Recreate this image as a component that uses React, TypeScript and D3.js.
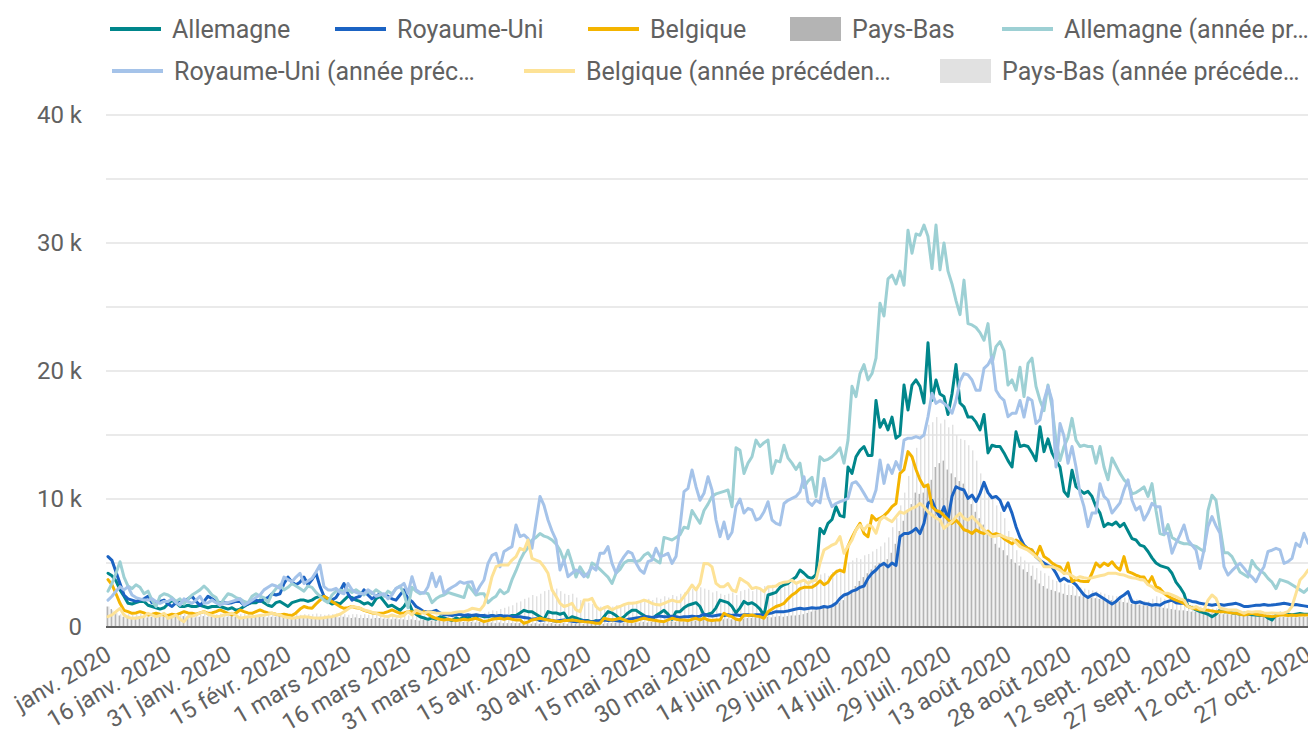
import React from 'react';
import * as d3 from 'd3';

// ---------- DATA (values in thousands, one per day from 1 Jan 2020 to 27 Oct 2020) ----------
const START_DATE = new Date(2020, 0, 1);

const tickLabels = [
  'janv. 2020', '16 janv. 2020', '31 janv. 2020', '15 févr. 2020', '1 mars 2020',
  '16 mars 2020', '31 mars 2020', '15 avr. 2020', '30 avr. 2020', '15 mai 2020',
  '30 mai 2020', '14 juin 2020', '29 juin 2020', '14 juil. 2020', '29 juil. 2020',
  '13 août 2020', '28 août 2020', '12 sept. 2020', '27 sept. 2020', '12 oct. 2020', '27 oct. 2020'
];
const tickDayIndex = [0, 15, 30, 45, 60, 75, 90, 105, 120, 135, 150, 165, 180, 195, 210, 225, 240, 255, 270, 285, 300];

const yTicks = [0, 10, 20, 30, 40];
const yGrid = [5, 10, 15, 20, 25, 30, 35, 40];

const allemagne = [
  4.2, 4.0, 3.6, 2.9, 2.4, 1.85, 1.8, 1.9, 2.0, 2.0,
  1.7, 1.6, 1.5, 1.4, 1.5, 1.8, 2.1, 1.9, 1.6, 1.6,
  1.7, 1.6, 1.6, 1.7, 1.6, 1.5, 1.6, 1.6, 1.6, 1.5,
  1.4, 1.5, 1.3, 1.4, 1.6, 1.8, 1.9, 1.9, 2.1, 1.9,
  1.7, 1.6, 1.9, 2.0, 1.8, 1.6, 1.9, 2.0, 2.1, 2.1,
  2.0, 2.1, 2.3, 2.4, 2.3, 2.0, 1.8, 1.9, 1.8, 2.1,
  2.4, 2.3, 2.1, 2.0, 1.8, 1.9, 1.7, 2.2, 2.4, 2.0,
  1.6, 1.7, 1.5, 1.3, 1.6, 2.1, 1.3, 1.0, 0.8, 0.7,
  0.6, 0.7, 0.6, 0.8, 0.7, 0.6, 0.5, 0.7, 0.6, 0.8,
  0.7, 0.9, 0.8, 0.9, 0.8, 0.8, 0.9, 0.8, 0.9, 0.8,
  0.8, 0.9, 0.9, 1.1, 1.3, 1.2, 1.2, 1.0, 0.8, 0.6,
  1.2, 1.1, 1.1, 1.0, 1.1, 0.6, 0.8, 0.7, 0.6, 0.5,
  0.5, 0.4, 0.5, 0.4, 0.8, 1.2, 1.1, 0.9, 0.6, 0.8,
  1.1, 1.3, 1.3, 1.1, 0.9, 0.7, 0.6, 0.9, 1.1, 1.3,
  1.0, 0.6, 1.2, 1.2, 1.5, 1.7, 1.8, 1.9, 1.6, 0.9,
  1.0, 1.1, 1.5, 2.1, 2.0, 1.9, 1.6, 1.1, 1.5, 2.0,
  1.8, 1.9, 1.7, 1.4, 0.9, 2.5, 2.6, 2.7, 3.1, 3.3,
  3.4, 3.7, 3.9, 4.45, 4.2, 3.9, 3.8, 4.1, 7.7, 7.3,
  8.1, 8.4, 9.4, 8.7, 8.6, 12.5, 12.0, 13.3, 13.8, 14.1,
  13.4, 13.4, 17.7, 15.6, 16.2, 15.4, 16.4, 14.75, 15.0, 18.9,
  16.95, 18.9, 19.3, 18.8, 17.5, 22.2, 17.7, 19.3, 18.2, 18.0,
  16.6, 18.2, 20.5, 17.5, 17.2, 16.4, 16.4, 16.0, 15.4, 16.6,
  13.6, 14.2, 14.1, 14.1, 13.6, 13.0, 12.5, 15.25, 14.1, 14.2,
  14.1, 13.6, 13.0, 15.65, 13.7, 14.7, 13.6, 13.0, 12.5, 10.6,
  10.2, 12.25, 10.96, 10.7, 10.44, 10.6, 10.2, 9.4, 8.9, 7.84,
  8.1, 7.97, 8.2, 7.84, 8.1, 7.5, 6.9, 6.8, 6.4, 6.3,
  5.9, 5.4, 5.0, 4.8, 4.7, 4.6, 4.2, 3.5, 3.1, 2.6,
  1.6, 1.5, 1.33, 1.2, 1.1, 1.0, 0.8, 1.0, 1.33, 1.2,
  1.2, 1.1, 1.07, 1.0, 1.07, 1.0, 0.95, 0.94, 0.9, 0.94,
  0.7, 0.55, 0.94, 1.07, 1.0, 1.0, 0.95, 1.0, 1.05, 1.0,
  1.0
];

const royaumeUni = [
  5.5, 5.2, 4.3, 3.4, 2.5, 2.2, 2.1, 2.0, 2.1, 2.2,
  2.4, 1.9, 1.9, 2.0, 2.1, 1.8, 1.6, 1.9, 2.1, 2.0,
  2.2, 2.4, 2.0, 1.7, 2.0, 2.4, 2.2, 2.0, 1.9, 1.9,
  1.85, 1.9, 2.0, 2.0, 1.7, 1.8, 2.0, 2.1, 2.0, 2.2,
  2.3, 2.6, 2.5, 2.6, 3.4, 3.9, 3.5, 3.3, 3.5, 3.9,
  3.3, 3.7, 4.2, 3.15, 2.4, 2.2, 2.1, 2.3, 2.8, 3.4,
  2.6, 2.1, 2.3, 2.4, 2.9, 2.5, 2.2, 2.4, 2.6, 2.5,
  2.4, 2.2, 2.1, 2.5, 2.9, 2.2, 2.0, 1.6, 1.4, 1.2,
  1.2, 1.2, 1.3, 1.1, 0.95, 0.95, 0.9, 0.95, 1.0, 0.9,
  0.95, 0.9, 0.95, 0.9, 0.9, 0.85, 0.9, 0.85, 0.9, 0.85,
  0.85, 0.8, 0.8, 0.8, 0.75, 0.7, 0.6, 0.65, 0.5, 0.55,
  0.6, 0.5, 0.45, 0.5, 0.55, 0.5, 0.45, 0.4, 0.45, 0.5,
  0.45, 0.4, 0.45, 0.5, 0.55, 0.5, 0.55, 0.5, 0.45, 0.5,
  0.6, 0.65, 0.7, 0.75, 0.8, 0.8, 0.75, 0.8, 0.85, 0.8,
  0.8, 0.85, 0.8, 0.75, 0.8, 0.8, 0.85, 0.8, 0.85, 1.0,
  0.9, 0.85, 0.9, 0.95, 0.9, 0.95, 0.9, 0.95, 0.9, 0.95,
  0.95, 0.9, 0.95, 0.95, 0.9, 1.05, 1.1, 1.2, 1.2, 1.2,
  1.25, 1.33, 1.4, 1.46, 1.4, 1.45, 1.5, 1.46, 1.5, 1.6,
  1.55, 1.65, 1.85, 2.24, 2.5, 2.6, 2.8, 2.9, 3.1, 3.2,
  3.8, 4.2, 4.45, 4.8, 4.97, 4.7, 5.0, 4.8, 7.05, 7.3,
  7.3, 7.45, 7.7, 7.3, 8.1, 9.65, 9.9, 9.1, 8.6, 9.4,
  8.4, 10.2, 10.96, 10.8, 10.7, 10.05, 10.3, 9.8, 10.44, 11.3,
  10.5, 10.1, 10.2, 9.9, 9.1, 9.7, 8.9, 7.84, 7.0, 6.4,
  6.1, 6.0, 5.5, 5.2, 5.0, 4.8, 4.7, 4.2, 3.6, 3.8,
  3.6, 3.55, 3.3, 2.9, 2.5, 2.3, 2.5, 2.6, 2.4, 2.2,
  2.0, 1.8, 2.0, 2.3, 2.5, 2.76, 1.97, 1.9, 1.97, 1.84,
  1.8, 1.7, 1.75, 1.7, 1.9, 2.0, 2.1, 1.9, 1.85, 1.85,
  2.1, 2.0, 1.95, 1.85, 1.8, 1.75, 1.7, 1.75, 1.75, 1.7,
  1.75, 1.8, 1.85, 1.75, 1.6, 1.6, 1.65, 1.7, 1.7, 1.75,
  1.7, 1.72, 1.75, 1.8, 1.85, 1.8, 1.72, 1.75, 1.7, 1.65,
  1.6
];

const belgique = [
  3.7, 3.3, 2.6, 1.85, 1.3, 1.2, 1.07, 1.1, 1.2, 1.1,
  0.94, 1.0, 1.07, 1.0, 0.94, 0.9, 1.0, 0.94, 1.07, 1.2,
  1.1, 1.07, 1.0, 1.1, 1.2, 1.07, 1.1, 1.2, 1.33, 1.2,
  1.07, 0.94, 1.1, 1.33, 1.2, 1.1, 1.07, 1.2, 1.33, 1.2,
  1.1, 1.07, 1.0, 0.94, 1.0, 0.94, 0.9, 1.1, 1.4, 1.6,
  1.5, 1.46, 1.8, 2.1, 2.4, 2.2, 1.98, 1.8, 1.6, 1.46,
  1.5, 1.6, 1.5, 1.46, 1.3, 1.2, 1.1, 1.07, 1.07, 1.1,
  1.2, 1.33, 1.2, 1.07, 1.1, 1.2, 1.2, 1.1, 1.07, 1.2,
  1.0, 0.8, 0.68, 0.6, 0.55, 0.6, 0.55, 0.5, 0.55, 0.6,
  0.55, 0.6, 0.68, 0.55, 0.42, 0.5, 0.6, 0.65, 0.68, 0.6,
  0.68, 0.6, 0.55, 0.55, 0.29, 0.4, 0.55, 0.6, 0.68, 0.6,
  0.55, 0.5, 0.45, 0.42, 0.5, 0.5, 0.55, 0.5, 0.45, 0.42,
  0.4, 0.35, 0.3, 0.29, 0.68, 0.6, 0.55, 0.6, 0.68, 0.55,
  0.45, 0.42, 0.5, 0.6, 0.68, 0.6, 0.55, 0.5, 0.45, 0.42,
  0.55, 0.68, 0.6, 0.55, 0.55, 0.5, 0.6, 0.68, 0.55, 0.7,
  0.55, 0.5, 0.55, 0.55, 1.07, 0.9, 0.81, 0.6, 0.55, 0.94,
  0.9, 0.94, 0.85, 0.81, 0.68, 1.2, 1.4, 1.6, 1.7, 1.85,
  2.2, 2.5, 2.7, 3.0, 3.1, 3.1, 3.1, 3.3, 3.6, 3.3,
  3.5, 4.0, 4.3, 4.45, 4.3, 6.3, 7.0, 7.6, 8.1, 7.3,
  7.05, 8.7, 8.35, 8.5, 8.7, 9.0, 9.4, 9.65, 12.0, 12.3,
  13.7, 13.3, 12.3, 11.5, 10.96, 11.1, 9.4, 9.1, 9.0, 8.7,
  8.4, 8.1, 8.35, 8.0, 7.6, 7.5, 7.3, 7.6, 7.4, 7.3,
  7.5, 7.2, 7.3, 7.19, 6.9, 6.7, 6.5, 6.8, 6.6, 6.3,
  6.15, 6.0, 5.5, 6.3, 5.5, 5.3, 5.0, 4.8, 4.7, 4.2,
  5.0, 3.55, 3.7, 3.6, 3.55, 3.55, 4.2, 5.0, 4.7, 5.0,
  4.8, 5.1, 4.7, 4.45, 5.5, 4.33, 4.2, 4.06, 3.93, 3.9,
  3.4, 3.93, 3.15, 3.0, 2.63, 2.4, 2.24, 2.1, 1.98, 1.85,
  1.6, 1.5, 1.4, 1.33, 1.33, 1.3, 1.25, 1.2, 1.2, 1.2,
  1.15, 1.1, 1.07, 1.0, 0.94, 1.0, 1.07, 1.0, 0.94, 0.9,
  0.85, 0.81, 0.85, 0.94, 0.94, 0.9, 0.94, 0.9, 0.94, 0.94,
  0.94
];

const paysBas = [
  1.6, 1.4, 1.0, 0.9, 0.8, 0.8, 0.75, 0.8, 0.85, 0.8,
  0.75, 0.8, 0.8, 0.85, 0.8, 0.8, 0.75, 0.8, 0.8, 0.85,
  0.8, 0.8, 0.75, 0.8, 0.85, 0.8, 0.8, 0.85, 0.8, 0.75,
  0.8, 0.85, 0.8, 0.8, 0.75, 0.8, 0.8, 0.85, 0.8, 0.8,
  0.75, 0.8, 0.8, 0.85, 0.8, 0.8, 0.75, 0.8, 0.8, 0.85,
  0.8, 0.8, 0.75, 0.8, 0.8, 0.85, 0.8, 0.8, 0.75, 0.8,
  0.75, 0.7, 0.75, 0.7, 0.7, 0.7, 0.65, 0.7, 0.7, 0.65,
  0.65, 0.6, 0.65, 0.6, 0.6, 0.55, 0.6, 0.55, 0.5, 0.55,
  0.5, 0.5, 0.45, 0.5, 0.45, 0.45, 0.4, 0.45, 0.4, 0.4,
  0.4, 0.4, 0.35, 0.4, 0.35, 0.35, 0.35, 0.3, 0.35, 0.3,
  0.3, 0.3, 0.3, 0.3, 0.25, 0.3, 0.25, 0.3, 0.25, 0.3,
  0.25, 0.3, 0.25, 0.25, 0.3, 0.25, 0.3, 0.25, 0.3, 0.25,
  0.3, 0.25, 0.3, 0.3, 0.25, 0.3, 0.3, 0.35, 0.3, 0.3,
  0.35, 0.3, 0.35, 0.35, 0.4, 0.35, 0.4, 0.4, 0.35, 0.4,
  0.4, 0.45, 0.4, 0.45, 0.45, 0.5, 0.45, 0.5, 0.5, 0.55,
  0.55, 0.6, 0.55, 0.6, 0.6, 0.65, 0.6, 0.65, 0.7, 0.65,
  0.7, 0.7, 0.75, 0.7, 0.75, 0.8, 0.75, 0.8, 0.85, 0.8,
  0.85, 0.9, 0.9, 0.95, 1.0, 1.1, 1.2, 1.3, 1.4, 1.5,
  1.6, 1.7, 1.8, 1.9, 2.1, 2.6, 2.9, 3.2, 3.6, 3.9,
  4.2, 4.5, 4.8, 5.0, 5.1, 5.3, 5.8, 6.5, 7.5, 8.3,
  9.0, 9.6, 10.5, 10.4, 10.5, 11.0, 11.5, 12.5, 12.8, 13.0,
  12.3, 12.0, 11.7, 11.4, 11.2, 10.0, 9.6, 9.0, 8.5, 8.0,
  7.5, 7.0, 6.5, 6.2, 6.0, 5.6, 5.3, 5.0, 4.8, 4.5,
  4.3, 4.0, 3.7, 3.4, 3.2, 3.0, 2.9, 2.8, 2.7, 2.6,
  2.5, 2.5, 2.45, 2.4, 2.4, 2.35, 2.3, 2.25, 2.2, 2.2,
  2.15, 2.1, 2.0, 2.0, 1.95, 1.9, 1.8, 1.8, 1.75, 1.7,
  1.65, 1.6, 1.6, 1.55, 1.5, 1.45, 1.4, 1.35, 1.3, 1.3,
  1.25, 1.2, 1.2, 1.15, 1.1, 1.1, 1.05, 1.05, 1.0, 1.0,
  1.0, 0.95, 0.95, 0.9, 0.9, 0.9, 0.85, 0.85, 0.85, 0.8,
  0.8, 0.8, 0.8, 0.75, 0.8, 0.75, 0.8, 0.75, 0.8, 0.8,
  0.8
];

const allemagnePrev = [
  2.8, 3.4, 4.2, 5.1, 3.9, 3.2, 3.0, 3.3, 3.1, 2.6,
  2.8, 2.1, 1.6, 2.4, 2.6, 2.5, 2.3, 2.0, 2.2, 1.8,
  2.2, 2.5, 2.7, 2.9, 3.2, 2.9, 2.5, 2.3, 1.7, 2.2,
  2.6, 2.5, 2.3, 2.2, 2.0, 1.9, 2.4, 2.6, 2.4, 2.3,
  1.9, 2.6, 3.0, 3.3, 2.9, 3.1, 3.4, 3.2, 3.0, 2.8,
  3.2, 3.1, 2.7, 2.4, 2.1, 1.9, 2.5, 2.8, 2.9, 2.8,
  2.9, 2.7, 2.9, 2.7, 2.5, 2.8, 2.6, 2.9, 2.7, 2.4,
  2.8, 2.6, 3.0, 3.2, 2.6, 1.5, 3.1, 2.8, 2.6, 2.7,
  2.6, 1.9, 2.2, 2.4, 2.5, 2.7, 2.6, 2.5, 2.4, 2.3,
  3.3, 2.9, 2.5, 2.6, 2.6, 1.9, 2.2, 2.4, 2.9, 2.6,
  2.8, 3.7, 4.4, 5.2, 5.8, 6.2, 6.8, 7.0, 7.3, 7.1,
  7.0, 6.8, 6.5, 6.0, 5.2, 6.0, 5.0, 3.9, 4.7, 4.2,
  3.9, 5.0, 4.8, 4.5, 4.2, 3.9, 3.4, 4.2, 4.5, 5.0,
  5.2, 5.2, 5.1, 5.2, 5.6, 5.8, 5.4, 5.2, 5.0, 7.0,
  6.9, 6.8, 7.0, 7.2, 7.8, 7.7, 9.1, 8.6, 8.1, 9.1,
  9.6, 10.2, 10.4, 10.5, 10.6, 10.7, 9.4, 14.0, 13.8, 12.0,
  12.8, 13.3, 14.6, 14.1, 14.4, 14.6, 12.0, 13.0, 12.9, 14.2,
  13.2, 12.8, 12.3, 12.8, 10.9, 11.4, 11.7, 10.2, 13.3, 13.0,
  13.1, 13.3, 13.6, 14.0, 12.8, 14.6, 18.8, 18.0, 19.8, 20.5,
  19.3, 19.8, 21.0, 25.3, 24.3, 27.2, 27.5, 26.8, 27.8, 26.7,
  31.0, 29.2, 30.7, 30.6, 31.4, 30.5, 28.0, 31.4, 27.9, 30.0,
  27.8, 26.8, 25.5, 24.4, 27.1, 23.7, 23.6, 23.4, 23.0, 22.4,
  23.7, 20.6, 21.9, 22.3, 21.6, 18.9, 19.3, 18.5, 20.3, 18.0,
  20.6, 21.0, 18.8, 17.7, 16.9, 18.9, 17.2, 14.6, 13.0, 14.1,
  14.8, 16.3, 14.6, 14.1, 14.2, 14.1, 14.1, 12.8, 14.1, 12.5,
  11.5, 13.2, 12.6, 12.0, 11.5, 11.2, 10.4, 10.5, 10.7, 10.95,
  10.2, 11.2, 9.1, 7.3, 7.2, 8.0, 7.0, 6.8, 6.6, 6.5,
  6.5, 6.4, 6.3, 6.1, 5.9, 9.1, 10.3, 9.9, 7.8, 5.8,
  5.8, 5.5, 4.9, 4.3, 4.1, 3.9, 5.2, 4.7, 4.4, 4.2,
  3.8, 3.5, 3.0, 3.7, 3.6, 3.5, 3.3, 3.1, 2.9, 2.7,
  3.0
];

const royaumeUniPrev = [
  2.1, 2.4, 2.8, 3.15, 2.9, 3.15, 2.5, 2.3, 2.2, 2.1,
  2.1, 2.2, 2.0, 1.85, 2.0, 2.0, 2.2, 1.9, 1.7, 2.2,
  2.0, 1.85, 2.1, 2.4, 1.85, 1.9, 2.1, 1.9, 1.7, 1.85,
  1.9, 2.0, 2.1, 2.2, 1.7, 1.9, 2.1, 2.3, 2.5, 2.9,
  3.1, 3.3, 3.2, 3.02, 3.9, 3.7, 3.54, 3.9, 4.2, 3.4,
  3.6, 3.8, 4.3, 4.84, 3.15, 2.9, 2.9, 3.02, 2.7, 2.6,
  3.4, 2.9, 2.7, 2.6, 2.6, 2.9, 2.7, 2.4, 2.5, 2.6,
  2.2, 2.5, 3.02, 3.15, 3.41, 2.63, 3.93, 2.9, 2.7, 2.63,
  3.15, 4.2, 3.15, 3.93, 2.63, 2.9, 3.1, 3.28, 3.54, 3.41,
  3.5, 3.54, 2.63, 3.2, 3.67, 4.97, 5.6, 5.76, 4.7, 5.9,
  6.1, 6.28, 7.97, 7.06, 7.19, 6.9, 6.15, 8.2, 10.2, 9.5,
  8.36, 7.5, 6.8, 4.45, 5.23, 3.93, 4.2, 4.45, 4.3, 3.93,
  4.2, 4.7, 4.45, 5.76, 5.76, 6.28, 4.97, 4.2, 5.0, 5.5,
  5.9, 5.76, 5.0, 4.45, 4.2, 5.1, 5.23, 6.15, 5.5, 5.6,
  5.76, 4.97, 5.5, 7.84, 10.57, 10.83, 12.27, 10.96, 9.9, 10.44,
  11.74, 10.7, 8.36, 7.06, 8.2, 6.9, 7.4, 9.4, 10.0, 8.9,
  9.27, 9.14, 8.36, 8.49, 9.0, 9.79, 8.36, 8.1, 7.97, 9.65,
  9.9, 10.05, 10.2, 10.57, 11.74, 9.79, 9.5, 9.9, 9.7, 11.6,
  10.2, 9.4, 9.65, 9.8, 9.9, 10.05, 11.22, 11.35, 10.96, 10.44,
  9.9, 9.79, 10.7, 13.05, 11.22, 12.66, 12.0, 12.92, 12.27, 14.6,
  14.75, 14.75, 14.88, 14.75, 15.0, 16.43, 18.26, 17.47, 17.7, 17.47,
  17.2, 16.7, 17.7, 19.2, 19.8, 19.7, 19.3, 18.5, 18.5, 20.2,
  20.5, 21.1, 18.5, 17.99, 17.7, 16.43, 16.69, 16.69, 17.7, 16.4,
  17.9, 17.7, 15.9, 16.2, 17.7, 18.8, 17.7, 12.5, 15.9, 14.9,
  12.8, 14.1, 12.5, 10.44, 9.4, 7.84, 8.9, 8.9, 11.2, 10.2,
  9.9, 8.9, 9.3, 9.7, 10.7, 11.5, 9.9, 9.14, 9.4, 8.36,
  8.9, 9.66, 9.4, 9.4, 7.32, 7.32, 5.76, 6.54, 7.2, 7.97,
  6.8, 6.4, 6.02, 4.58, 6.02, 7.84, 8.62, 7.9, 7.32, 4.71,
  4.06, 4.4, 4.71, 4.97, 4.6, 4.19, 3.9, 3.54, 4.2, 4.71,
  5.9, 6.0, 6.15, 6.02, 4.97, 5.1, 5.36, 6.54, 6.28, 7.32,
  6.54
];

const belgiquePrev = [
  0.81, 0.94, 1.2, 1.46, 0.94, 0.75, 0.68, 0.68, 0.75, 0.81,
  1.07, 0.94, 0.81, 0.9, 1.07, 0.68, 0.8, 0.94, 0.6, 0.42,
  0.81, 0.85, 0.94, 1.1, 1.2, 1.0, 0.9, 0.81, 0.85, 0.94,
  1.0, 1.07, 0.9, 0.68, 0.75, 0.8, 0.81, 0.85, 0.9, 0.94,
  1.0, 1.07, 1.0, 0.94, 0.8, 0.75, 0.68, 0.72, 0.78, 0.81,
  0.78, 0.72, 0.7, 0.68, 0.72, 0.78, 0.81, 0.9, 1.0, 1.2,
  1.4, 1.6, 1.55, 1.46, 1.33, 1.25, 1.15, 1.07, 0.94, 0.85,
  0.81, 0.94, 0.85, 0.81, 0.9, 1.2, 0.94, 1.33, 1.2, 1.07,
  1.2, 1.15, 1.1, 1.07, 1.07, 1.07, 1.1, 1.15, 1.2, 1.2,
  1.3, 1.46, 1.4, 1.33, 1.72, 2.63, 3.93, 4.71, 4.84, 4.84,
  4.84, 5.23, 5.5, 6.15, 6.0, 6.8, 5.36, 5.23, 5.1, 4.7,
  4.2, 2.9, 2.4, 1.85, 1.6, 1.7, 1.85, 1.33, 1.2, 2.1,
  2.1, 2.24, 1.6, 1.33, 1.5, 1.6, 1.33, 1.5, 1.6, 1.75,
  1.85, 1.85, 1.9, 1.98, 2.1, 2.0, 1.85, 1.75, 1.72, 1.85,
  1.98, 2.1, 2.0, 1.98, 2.4, 2.8, 3.28, 2.9, 3.41, 4.97,
  4.95, 4.7, 3.41, 3.15, 3.15, 3.4, 2.89, 2.76, 3.8, 3.6,
  3.4, 3.0, 3.1, 3.0, 2.76, 3.15, 3.15, 3.2, 3.41, 3.5,
  3.54, 3.67, 3.4, 3.54, 3.67, 3.4, 3.6, 3.65, 5.0, 6.02,
  6.2, 6.4, 6.54, 7.06, 5.76, 6.3, 6.8, 7.58, 7.97, 7.58,
  7.97, 7.84, 7.32, 8.36, 8.62, 8.4, 8.23, 8.62, 9.0, 8.88,
  9.1, 9.27, 9.4, 9.65, 9.4, 9.0, 8.75, 8.5, 8.36, 7.7,
  7.97, 8.23, 8.6, 8.88, 8.49, 8.36, 8.62, 8.3, 7.97, 7.58,
  7.32, 7.06, 7.1, 7.19, 7.06, 6.93, 6.9, 6.6, 6.28, 6.15,
  6.0, 5.76, 5.5, 5.23, 4.71, 4.7, 4.71, 4.6, 4.45, 4.19,
  4.19, 4.0, 3.8, 3.93, 3.85, 3.8, 3.85, 3.93, 4.0, 4.06,
  4.19, 4.19, 4.19, 4.1, 4.06, 3.93, 3.85, 3.8, 3.7, 3.67,
  3.3, 3.15, 2.89, 2.76, 2.63, 2.63, 2.5, 2.37, 2.2, 2.1,
  1.6, 1.46, 1.6, 1.4, 1.33, 2.1, 2.5, 2.24, 1.46, 1.4,
  1.33, 1.33, 1.33, 1.2, 1.07, 1.2, 1.15, 1.2, 1.2, 1.1,
  1.07, 1.1, 1.07, 1.07, 1.1, 1.2, 1.6, 2.63, 3.67, 4.0,
  4.45
];

const paysBasPrev = [
  1.6, 1.3, 1.1, 1.0, 1.05, 1.0, 0.95, 1.0, 1.05, 1.0,
  0.95, 1.0, 1.05, 1.0, 0.95, 1.0, 1.0, 0.95, 1.0, 1.05,
  1.0, 0.95, 1.0, 1.0, 1.05, 1.0, 0.95, 1.0, 1.05, 1.0,
  1.0, 0.95, 1.0, 1.0, 1.05, 1.0, 1.0, 0.95, 1.0, 1.0,
  1.05, 1.0, 0.95, 1.0, 1.0, 1.0, 1.05, 1.0, 0.95, 1.0,
  1.0, 1.0, 1.05, 1.0, 0.95, 1.0, 1.0, 1.05, 1.0, 1.0,
  0.95, 1.0, 1.0, 0.95, 1.0, 0.95, 0.95, 1.0, 0.95, 0.9,
  0.95, 0.9, 0.95, 0.9, 0.95, 0.9, 0.95, 0.9, 0.95, 0.9,
  0.9, 0.95, 0.9, 0.9, 0.95, 0.9, 0.95, 1.0, 0.95, 1.0,
  1.0, 1.05, 1.1, 1.0, 1.1, 1.2, 1.3, 1.25, 1.4, 1.5,
  1.6, 1.7, 1.9, 2.0, 2.2, 2.3, 2.5, 2.4, 2.6, 2.8,
  2.9, 2.7, 3.0, 2.8, 2.6, 2.5, 2.6, 2.3, 2.1, 2.0,
  1.9, 1.8, 1.7, 1.6, 1.6, 1.5, 1.6, 1.7, 1.6, 1.8,
  1.9, 1.8, 2.0, 2.1, 2.0, 2.2, 2.1, 2.3, 2.2, 2.4,
  2.3, 2.5, 2.4, 2.6, 2.7, 2.8, 3.0, 2.9, 3.1, 3.0,
  2.9, 2.7, 2.8, 2.6, 2.5, 2.6, 2.7, 2.5, 2.8, 2.9,
  3.0, 2.8, 3.1, 3.0, 3.2, 3.1, 3.3, 3.0, 3.2, 3.4,
  3.3, 3.5, 3.4, 3.6, 3.5, 3.7, 3.9, 3.8, 4.1, 4.2,
  4.0, 4.3, 4.5, 4.4, 4.6, 5.0, 5.2, 5.4, 5.3, 5.6,
  5.7, 5.9, 6.1, 6.3, 6.6, 7.0, 7.8, 8.5, 9.5, 10.5,
  11.8, 13.0, 14.0, 14.8, 15.3, 15.8, 16.0, 16.4, 15.9, 16.2,
  15.6, 15.8, 15.0, 14.7, 14.6, 14.2, 13.8, 13.0, 12.0, 11.2,
  10.5, 10.0, 9.5, 9.0, 8.5, 7.5, 6.5, 6.0, 5.5, 5.2,
  5.0, 4.8, 4.6, 4.4, 4.2, 4.0, 3.7, 3.6, 3.5, 3.4,
  3.3, 3.2, 3.15, 3.1, 3.0, 2.9, 2.85, 2.8, 2.7, 2.6,
  2.5, 2.45, 2.4, 2.35, 2.3, 2.25, 2.2, 2.15, 2.1, 2.05,
  2.0, 2.2, 2.4, 2.3, 2.2, 2.1, 2.0, 1.9, 1.85, 1.8,
  1.75, 1.7, 1.65, 1.6, 1.55, 1.5, 1.45, 1.45, 1.4, 1.35,
  1.3, 1.3, 1.25, 1.2, 1.2, 1.15, 1.15, 1.1, 1.1, 1.05,
  1.05, 1.0, 1.0, 1.0, 0.95, 0.95, 0.95, 0.9, 0.95, 0.9,
  0.9
];

// ---------- STYLE ----------
const COLORS = {
  allemagne: '#00868b',
  royaumeUni: '#1b63c3',
  belgique: '#f4b400',
  paysBas: '#b4b4b4',
  allemagnePrev: '#9dd0d4',
  royaumeUniPrev: '#a5c3e9',
  belgiquePrev: '#fde296',
  paysBasPrev: '#e1e1e1',
};
const TEXT = '#616161';
const FONT = 'Roboto, "Noto Sans", sans-serif';

const W = 1308;
const H = 734;
const PLOT_L = 106;
const PLOT_R = 1310;
const Y_BOTTOM = 627;
const Y_TOP = 115;

export default function App() {
  const n = allemagne.length;
  const days = d3.range(n).map((i) => d3.timeDay.offset(START_DATE, i));
  const x = d3.scaleBand<Date>().domain(days).range([PLOT_L, PLOT_R]).padding(0);
  const bw = x.bandwidth();
  const cx = (i: number) => (x(days[i]) as number) + bw / 2;
  const y = d3.scaleLinear().domain([0, 40]).range([Y_BOTTOM, Y_TOP]);

  // grouped bars
  const groupW = bw * 0.72;
  const sub = d3.scaleBand<string>().domain(['cur', 'prev']).range([0, groupW]).padding(0);

  const line = d3.line<number>().x((_, i) => cx(i)).y((d) => y(d));

  const lineSeries = [
    { data: allemagne, color: COLORS.allemagne },
    { data: royaumeUni, color: COLORS.royaumeUni },
    { data: belgique, color: COLORS.belgique },
    { data: allemagnePrev, color: COLORS.allemagnePrev },
    { data: royaumeUniPrev, color: COLORS.royaumeUniPrev },
    { data: belgiquePrev, color: COLORS.belgiquePrev },
  ];

  const legendRow1 = [
    { type: 'line', color: COLORS.allemagne, label: 'Allemagne', x: 110 },
    { type: 'line', color: COLORS.royaumeUni, label: 'Royaume-Uni', x: 335 },
    { type: 'line', color: COLORS.belgique, label: 'Belgique', x: 588 },
    { type: 'rect', color: COLORS.paysBas, label: 'Pays-Bas', x: 790 },
    { type: 'line', color: COLORS.allemagnePrev, label: 'Allemagne (année pr…', x: 1002 },
  ];
  const legendRow2 = [
    { type: 'line', color: COLORS.royaumeUniPrev, label: 'Royaume-Uni (année préc…', x: 112 },
    { type: 'line', color: COLORS.belgiquePrev, label: 'Belgique (année précéden…', x: 524 },
    { type: 'rect', color: COLORS.paysBasPrev, label: 'Pays-Bas (année précéde…', x: 940 },
  ];

  const renderLegend = (items: any[], cy: number) =>
    items.map((it, k) => (
      <g key={k}>
        {it.type === 'line' ? (
          <line x1={it.x} x2={it.x + 51} y1={cy} y2={cy} stroke={it.color} strokeWidth={4} />
        ) : (
          <rect x={it.x} y={cy - 12} width={51} height={24} fill={it.color} />
        )}
        <text x={it.x + 62} y={cy} dy="0.35em" fontSize={25} fill={TEXT} fontFamily={FONT}>
          {it.label}
        </text>
      </g>
    ));

  return (
    <svg
      width={W}
      height={H}
      style={{ position: 'absolute', left: 0, top: 0, background: '#fff' }}
      fontFamily={FONT}
    >
      <defs>
        <clipPath id="plotClip">
          <rect x={PLOT_L} y={0} width={W - PLOT_L} height={Y_BOTTOM + 2} />
        </clipPath>
      </defs>
      <rect x={0} y={0} width={W} height={H} fill="#fff" />

      {/* gridlines */}
      {yGrid.map((v) => (
        <line key={v} x1={PLOT_L} x2={W} y1={y(v)} y2={y(v)} stroke="#e3e3e3" strokeWidth={1.5} />
      ))}

      {/* y tick labels */}
      {yTicks.map((v) => (
        <text key={v} x={82} y={y(v)} dy="0.35em" textAnchor="end" fontSize={24} fill={TEXT}>
          {v === 0 ? '0' : `${v} k`}
        </text>
      ))}

      <g clipPath="url(#plotClip)">
        {/* bars */}
        {days.map((d, i) => {
          const gx = (x(d) as number) + (bw - groupW) / 2;
          return (
            <g key={i}>
              <rect
                x={gx + (sub('cur') as number)}
                y={y(paysBas[i])}
                width={sub.bandwidth()}
                height={Y_BOTTOM - y(paysBas[i])}
                fill={COLORS.paysBas}
              />
              <rect
                x={gx + (sub('prev') as number)}
                y={y(paysBasPrev[i])}
                width={sub.bandwidth()}
                height={Y_BOTTOM - y(paysBasPrev[i])}
                fill={COLORS.paysBasPrev}
              />
            </g>
          );
        })}

        {/* lines */}
        {lineSeries.map((s, k) => (
          <path
            key={k}
            d={line(s.data) || ''}
            fill="none"
            stroke={s.color}
            strokeWidth={3}
            strokeLinejoin="round"
            strokeLinecap="round"
          />
        ))}
      </g>

      {/* baseline */}
      <line x1={PLOT_L} x2={W} y1={Y_BOTTOM} y2={Y_BOTTOM} stroke="#5f5f5f" strokeWidth={2} />

      {/* x tick labels */}
      {tickDayIndex.map((di, k) => (
        <text
          key={k}
          transform={`translate(${cx(di) + 5},${659}) rotate(-30)`}
          textAnchor="end"
          fontSize={23.5}
          fill={TEXT}
        >
          {tickLabels[k]}
        </text>
      ))}

      {/* legend */}
      {renderLegend(legendRow1, 29)}
      {renderLegend(legendRow2, 71)}
    </svg>
  );
}
